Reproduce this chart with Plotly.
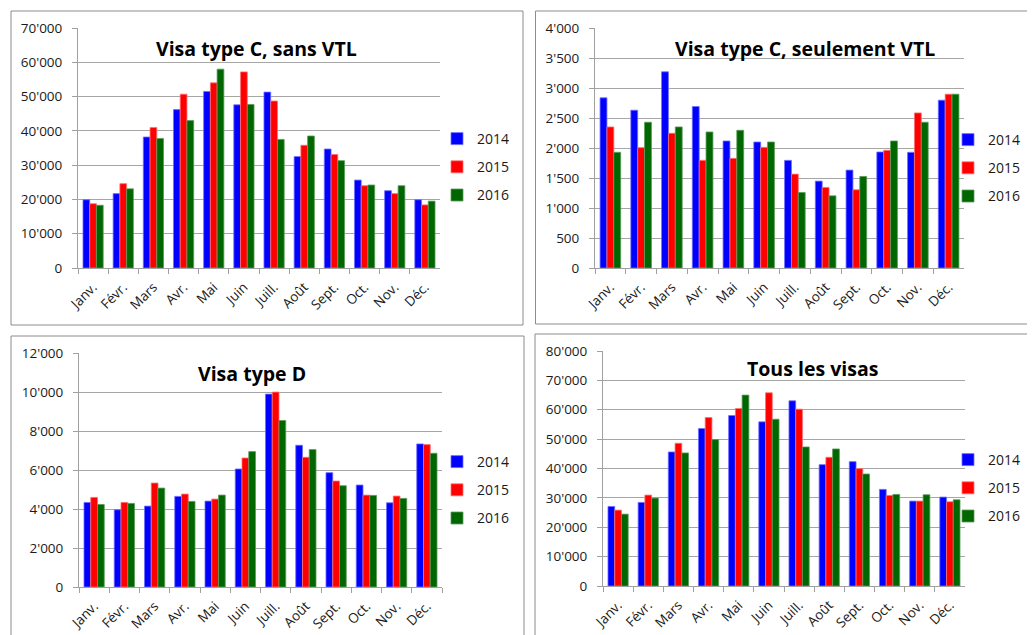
import plotly.graph_objects as go
from plotly.subplots import make_subplots

months = ["Janv.", "Févr.", "Mars", "Avr.", "Mai", "Juin", "Juill.", "Août", "Sept.", "Oct.", "Nov.", "Déc."]
years = ["2014", "2015", "2016"]

titles = ["Visa type C, sans VTL", "Visa type C, seulement VTL", "Visa type D", "Tous les visas"]

c_sans_2014 = [19900, 21700, 38200, 46200, 51500, 47600, 51300, 32500, 34700, 25650, 22550, 19900]
c_sans_2015 = [18750, 24600, 41000, 50700, 54000, 57200, 48700, 35800, 33100, 24000, 21700, 18400]
c_sans_2016 = [18300, 23100, 37800, 43000, 58000, 47700, 37500, 38500, 31300, 24200, 24000, 19500]

c_vtl_2014 = [2836, 2630, 3270, 2691, 2117, 2100, 1794, 1448, 1632, 1933, 1928, 2797]
c_vtl_2015 = [2351, 2006, 2245, 1794, 1827, 2011, 1565, 1343, 1304, 1961, 2585, 2897]
c_vtl_2016 = [1928, 2429, 2351, 2267, 2295, 2100, 1259, 1203, 1526, 2117, 2429, 2897]

d_2014 = [4337, 3960, 4149, 4646, 4406, 6052, 9892, 7269, 5863, 5229, 4320, 7337]
d_2015 = [4595, 4337, 5332, 4766, 4509, 6617, 9995, 6652, 5435, 4714, 4663, 7303]
d_2016 = [4234, 4286, 5074, 4389, 4714, 6943, 8537, 7046, 5195, 4697, 4543, 6857]

all_2014 = [27084, 28450, 45633, 53599, 58037, 55875, 63044, 41309, 42333, 32888, 28905, 30270]
all_2015 = [25832, 30953, 48592, 57354, 60427, 65775, 60199, 43812, 39943, 30839, 28905, 28677]
all_2016 = [24467, 29929, 45292, 49844, 64979, 56785, 47340, 46657, 38122, 31181, 31067, 29360]

y_max = [70000, 4000, 12000, 80000]
y_step = [10000, 500, 2000, 10000]

panels = [
    [c_sans_2014, c_sans_2015, c_sans_2016],
    [c_vtl_2014, c_vtl_2015, c_vtl_2016],
    [d_2014, d_2015, d_2016],
    [all_2014, all_2015, all_2016],
]

colors = ["#0000FF", "#FF0000", "#006600"]
edge_colors = ["#6f6fff", "#ff7070", "#5a9a5a"]

W, H = 1035, 635
OFF = 8  # page body margin offset
FONT = "Open Sans"

def px_x(x):
    return (x - OFF) / W

def px_y(y):
    return 1 - (y - OFF) / H

# plot areas in screen pixels: (x0, x1, ytop, ybottom)
areas = [
    (78, 440, 28, 268),
    (595, 964, 28, 268),
    (79, 442, 353, 587),
    (603, 965, 351, 586),
]
# title centres in screen pixels
title_pos = [(256, 48), (805, 48), (252, 373), (812, 368)]
# legend top-left screen pixels
legend_pos = [(437, 123), (948, 124), (437, 446), (948, 444)]
# frames: (x0, x1, ytop, ybottom, closed_right)
frames = [
    (11, 523, 11, 325, True),
    (535.5, 1060, 11, 324, False),
    (11, 524, 336, 660, True),
    (535, 1060, 334, 660, False),
]

fig = make_subplots(rows=2, cols=2)

legend_names = ["legend", "legend2", "legend3", "legend4"]
for p, series in enumerate(panels):
    r, c = p // 2 + 1, p % 2 + 1
    for k, vals in enumerate(series):
        fig.add_trace(
            go.Bar(
                x=months,
                y=vals,
                name=years[k],
                marker=dict(color=colors[k], line=dict(color=edge_colors[k], width=0.8)),
                legend=legend_names[p],
                legendgroup=f"{p}-{k}",
                showlegend=True,
            ),
            row=r,
            col=c,
        )

layout_updates = {}
for p in range(4):
    x0, x1, yt, yb = areas[p]
    suffix = "" if p == 0 else str(p + 1)
    layout_updates[f"xaxis{suffix}"] = dict(
        domain=[px_x(x0), px_x(x1)],
        type="category",
        tickson="boundaries",
        ticks="outside",
        ticklen=5,
        tickcolor="#a0a0a0",
        showline=True,
        linecolor="#a0a0a0",
        linewidth=1,
        showgrid=False,
        tickangle=-45,
        ticklabelstandoff=5,
        tickfont=dict(family=FONT, size=13.5, color="#1a1a1a"),
        range=[-0.5, 11.5],
        automargin=False,
        fixedrange=True,
    )
    layout_updates[f"yaxis{suffix}"] = dict(
        domain=[px_y(yb), px_y(yt)],
        range=[0, y_max[p]],
        dtick=y_step[p],
        tick0=0,
        tickformat=",d",
        ticks="outside",
        ticklen=5,
        tickcolor="#a0a0a0",
        showline=True,
        linecolor="#a0a0a0",
        linewidth=1,
        showgrid=True,
        gridcolor="#a6a6a6",
        gridwidth=1,
        zeroline=False,
        ticklabelstandoff=7,
        tickfont=dict(family=FONT, size=13.5, color="#1a1a1a"),
        automargin=False,
        fixedrange=True,
    )
    lx, ly = legend_pos[p]
    layout_updates[legend_names[p]] = dict(
        x=px_x(lx),
        y=px_y(ly),
        xanchor="left",
        yanchor="top",
        xref="paper",
        yref="paper",
        font=dict(family=FONT, size=14, color="#1a1a1a"),
        tracegroupgap=7,
        bgcolor="rgba(0,0,0,0)",
        borderwidth=0,
        itemclick=False,
        itemdoubleclick=False,
    )

fig.update_layout(**layout_updates)

annotations = []
for p in range(4):
    tx, ty = title_pos[p]
    annotations.append(
        dict(
            text=f"<b>{titles[p]}</b>",
            x=px_x(tx),
            y=px_y(ty),
            xref="paper",
            yref="paper",
            xanchor="center",
            yanchor="middle",
            showarrow=False,
            font=dict(family=FONT, size=19.5, color="#000000"),
        )
    )

shapes = []
for (fx0, fx1, fy0, fy1, closed) in frames:
    ax0, ax1 = px_x(fx0), px_x(fx1)
    ay0, ay1 = px_y(fy0), px_y(fy1)
    if closed:
        path = f"M{ax1},{ay0} L{ax0},{ay0} L{ax0},{ay1} L{ax1},{ay1} Z"
    else:
        path = f"M{ax1},{ay0} L{ax0},{ay0} L{ax0},{ay1} L{ax1},{ay1}"
    shapes.append(
        dict(
            type="path",
            xref="paper",
            yref="paper",
            path=path,
            line=dict(color="#8c8c8c", width=1),
            fillcolor="rgba(0,0,0,0)",
            layer="below",
        )
    )

fig.update_layout(
    template="none",
    width=W,
    height=H,
    autosize=False,
    margin=dict(l=0, r=0, t=0, b=0, pad=0, autoexpand=False),
    paper_bgcolor="white",
    plot_bgcolor="white",
    barmode="group",
    bargap=0.33,
    bargroupgap=0,
    separators=".'",
    annotations=annotations,
    shapes=shapes,
    font=dict(family=FONT),
)

fig.write_html("out.html")
